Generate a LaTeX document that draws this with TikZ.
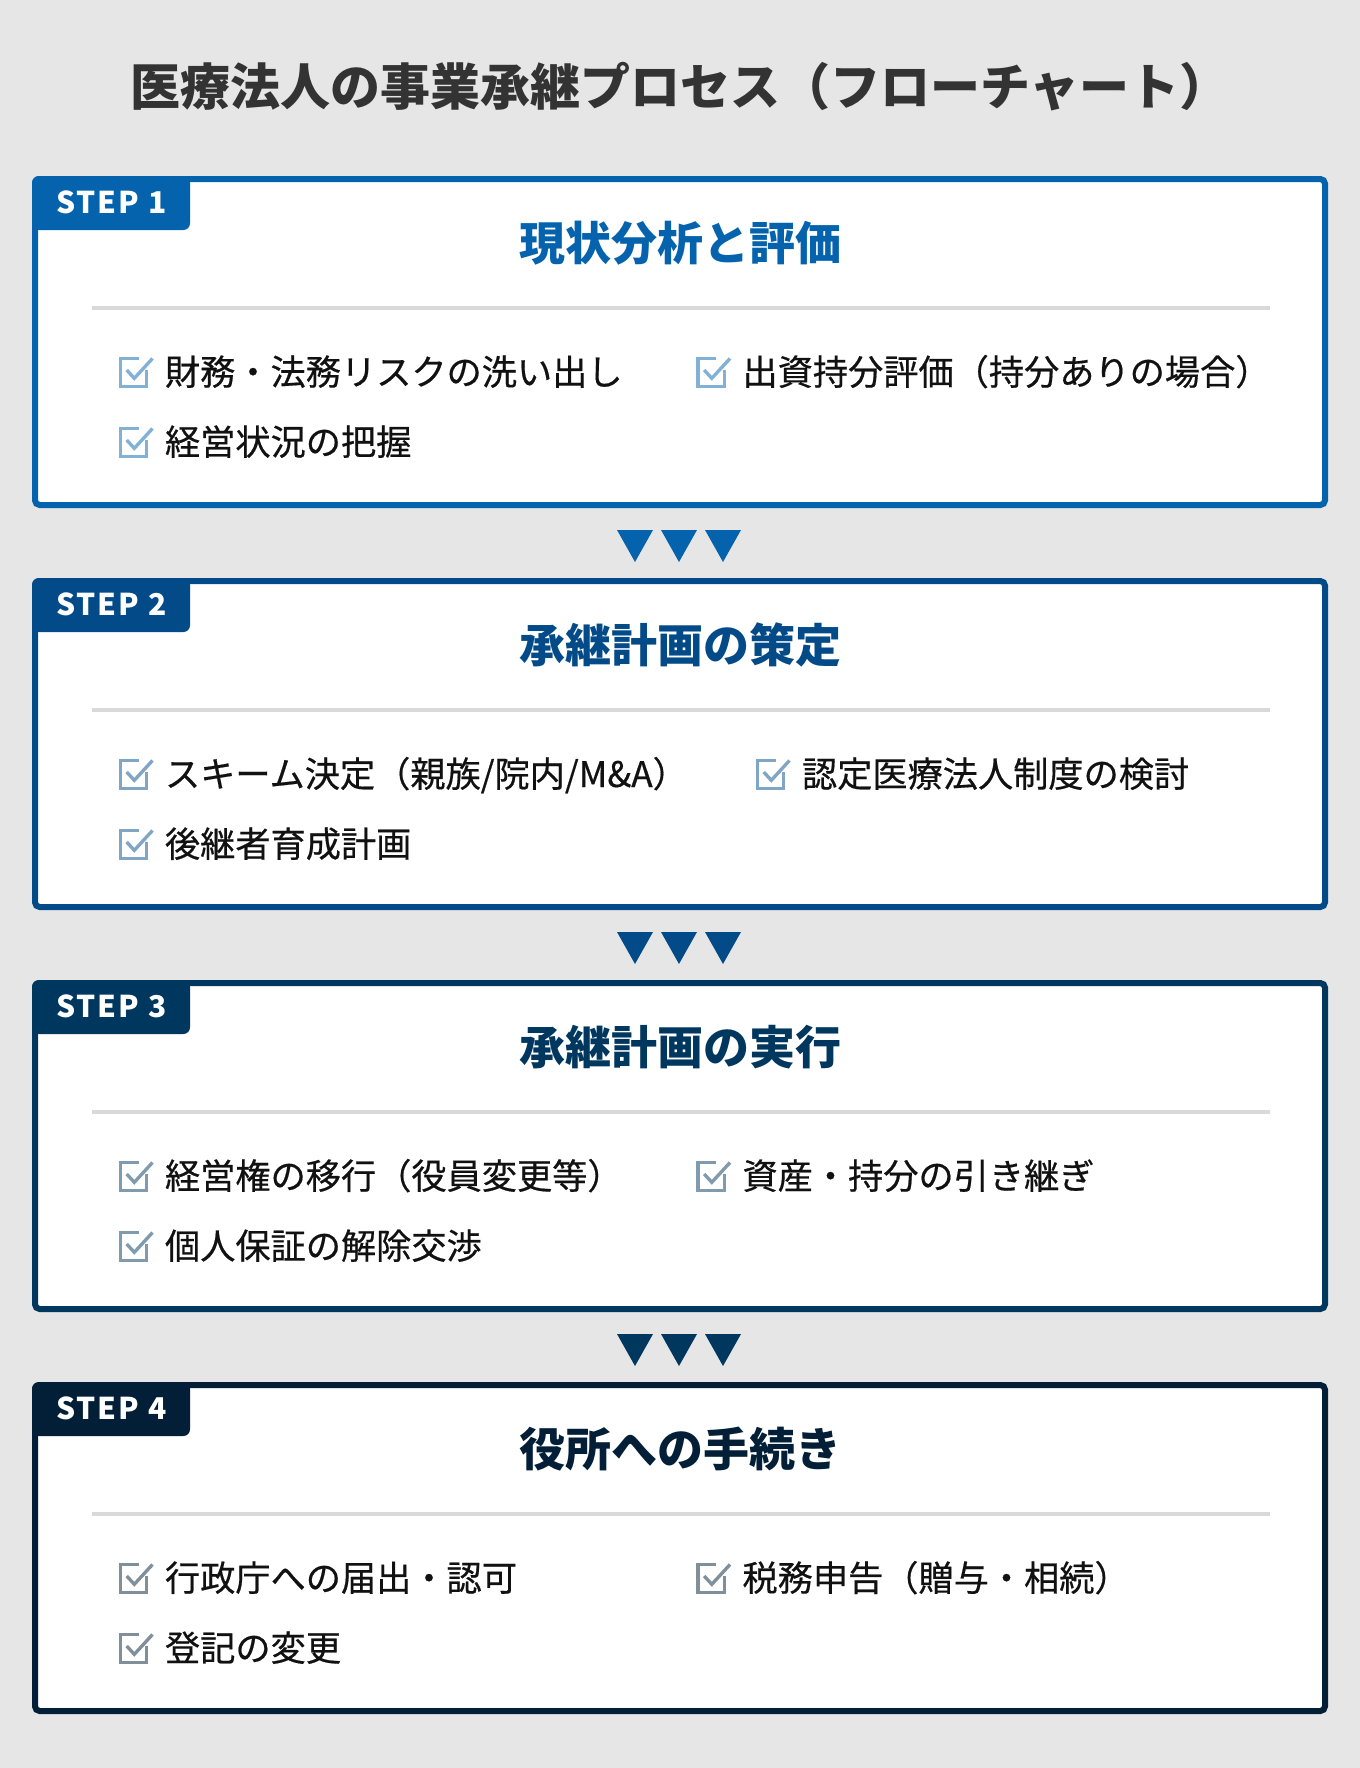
\documentclass[tikz,border=0pt]{standalone}
\usepackage{fontspec}
\setmainfont{Noto Sans CJK JP}
\newfontfamily\tabfont[LetterSpace=7]{Noto Sans CJK JP}
\newfontfamily\itemfont[FakeBold=0.5]{Noto Sans CJK JP}
\definecolor{bg}{HTML}{E6E6E6}
\definecolor{titlegray}{HTML}{333333}
\definecolor{itemblack}{HTML}{111111}
\definecolor{sepgray}{HTML}{D9D9D9}
\definecolor{cA}{HTML}{0563AD}
\definecolor{cB}{HTML}{034B88}
\definecolor{cC}{HTML}{00375E}
\definecolor{cD}{HTML}{021F37}
\tikzset{
  every node/.style={inner sep=0pt, outer sep=0pt},
  titletext/.style={anchor=base, text=titlegray, font=\fontsize{37.5}{40}\selectfont\bfseries},
  headtext/.style={anchor=base, font=\fontsize{34.5}{38}\selectfont\bfseries},
  itemtext/.style={anchor=base west, text=itemblack, font=\itemfont\fontsize{26.4}{28}\selectfont},
  tabtext/.style={anchor=base west, text=white, font=\tabfont\bfseries\fontsize{22.5}{24}\selectfont},
  frameline/.style={line width=4.5pt, fill=white, rounded corners=3.5},
  sepline/.style={line width=3pt, draw=sepgray},
  chkline/.style={line width=2.5pt}
}
% item: name, checkbox left x, baseline y, colour, text
\newcommand\chkitem[5]{%
  \draw[chkline, #4!50!white] (#2+19.5,#3-26.35) -- (#2+1.65,#3-26.35) -- (#2+1.65,#3+1.6) -- (#2+27.7,#3+1.6) -- (#2+27.7,#3-15);
  \draw[chkline, #4!50!white] (#2+7.7,#3-15) -- (#2+15.3,#3-6.7) -- (#2+33.5,#3-26.5);
  \node[itemtext] (#1) at (#2+46,#3) {#5};
}
% step frame: index, top y, colour, heading
\newcommand\stepframe[4]{%
  \draw[frameline, draw=#3] (35,#2+3) rectangle (1325,#2+329);
  \fill[#3, rounded corners=5] (32,#2) -- (190,#2) -- (190,#2+54) -- (32,#2+54) -- cycle;
  \node[tabtext] (tab#1) at (56,#2+37.5) {STEP #1};
  \node[headtext, text=#3] (head#1) at (680,#2+84) {#4};
  \coordinate (sepl#1) at (92,#2+132);
  \coordinate (sepr#1) at (1270,#2+132);
  \draw[sepline] (sepl#1) -- (sepr#1);
}
% triangles below a step: top y of the step, colour
\newcommand\tris[2]{%
  \foreach \cx in {635,679,723} {
    \fill[#2] (\cx-18,#1+354) -- (\cx+18,#1+354) -- (\cx,#1+386) -- cycle;
  }
}
\begin{document}
\begin{tikzpicture}[x=0.75pt,y=-0.75pt]
\fill[bg] (0,0) rectangle (1360,1768);
\useasboundingbox (0,0) rectangle (1360,1768);
\node[titletext] (title) at (680,105) {医療法人の事業承継プロセス（フローチャート）};

% STEP 1
\stepframe{1}{176}{cA}{現状分析と評価}
\chkitem{i11}{119}{385}{cA}{財務・法務リスクの洗い出し}
\chkitem{i12}{696.5}{385}{cA}{出資持分評価（持分ありの場合）}
\chkitem{i13}{119}{455}{cA}{経営状況の把握}
\tris{176}{cA}

% STEP 2
\stepframe{2}{578}{cB}{承継計画の策定}
\chkitem{i21}{119}{787}{cB}{スキーム決定（親族/院内/M\&A）}
\chkitem{i22}{756}{787}{cB}{認定医療法人制度の検討}
\chkitem{i23}{119}{857}{cB}{後継者育成計画}
\tris{578}{cB}

% STEP 3
\stepframe{3}{980}{cC}{承継計画の実行}
\chkitem{i31}{119}{1189}{cC}{経営権の移行（役員変更等）}
\chkitem{i32}{696.5}{1189}{cC}{資産・持分の引き継ぎ}
\chkitem{i33}{119}{1259}{cC}{個人保証の解除交渉}
\tris{980}{cC}

% STEP 4
\stepframe{4}{1382}{cD}{役所への手続き}
\chkitem{i41}{119}{1591}{cD}{行政庁への届出・認可}
\chkitem{i42}{696.5}{1591}{cD}{税務申告（贈与・相続）}
\chkitem{i43}{119}{1661}{cD}{登記の変更}
\end{tikzpicture}
\end{document}
